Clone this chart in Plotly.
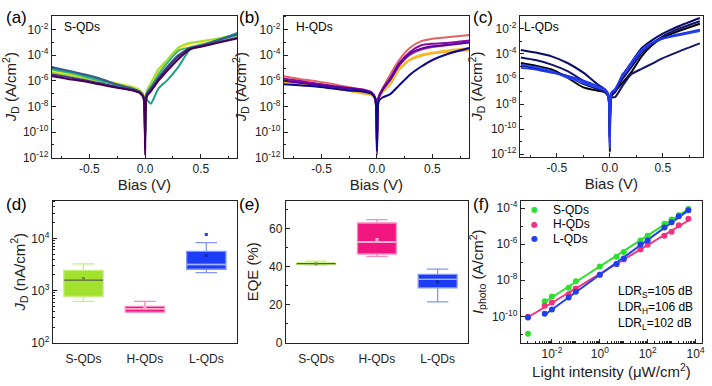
import numpy as np
import plotly.graph_objects as go

W, H = 712, 386

# ---------------- data ----------------
BIAS = [-0.84, -0.7, -0.55, -0.4, -0.25, -0.12, -0.05, -0.015, 0.0, 0.015, 0.05, 0.12, 0.2, 0.3, 0.4, 0.5, 0.65, 0.85]

# (a) S-QDs, log10(J) per device
S_COLORS = ["#fde725", "#a5db36", "#35b779", "#1f9e89", "#365c8d", "#46327e", "#440154"]
S_LOGJ = [
    [-5.25, -5.45, -5.7, -5.95, -6.2, -6.45, -6.7, -7.05, -10.0, -6.85, -6.35, -5.3, -4.5, -3.55, -3.15, -3.0, -2.75, -2.4],
    [-5.35, -5.55, -5.8, -6.05, -6.25, -6.5, -6.75, -7.1, -10.0, -6.8, -6.2, -5.1, -4.35, -3.4, -3.05, -2.92, -2.7, -2.35],
    [-5.1, -5.35, -5.65, -6.0, -6.35, -6.6, -6.85, -7.2, -10.0, -6.9, -6.5, -5.5, -4.6, -3.65, -3.4, -3.2, -2.85, -2.4],
    [-5.0, -5.25, -5.55, -5.9, -6.35, -6.65, -6.9, -7.3, -10.2, -7.5, -7.8, -6.6, -5.95, -4.9, -3.6, -3.3, -2.85, -2.2],
    [-4.93, -5.2, -5.5, -5.85, -6.3, -6.6, -6.85, -7.2, -10.8, -7.0, -6.6, -5.75, -4.9, -4.0, -3.5, -3.25, -2.85, -2.3],
    [-5.5, -5.7, -5.95, -6.2, -6.5, -6.7, -6.9, -7.25, -10.5, -7.1, -6.7, -5.85, -5.0, -4.1, -3.45, -3.3, -3.0, -2.6],
    [-5.64, -5.85, -6.05, -6.3, -6.55, -6.75, -6.95, -7.3, -11.8, -7.2, -6.85, -6.0, -5.2, -4.3, -3.55, -3.35, -3.05, -2.65],
]

# (b) H-QDs
H_COLORS = ["#fca636", "#f4c025", "#e16462", "#b83289", "#8b0aa5", "#5302a3", "#0d0887"]
H_LOGJ = [
    [-6.1, -6.2, -6.35, -6.55, -6.8, -7.0, -7.1, -7.5, -10.5, -7.4, -6.9, -6.27, -5.13, -4.37, -4.04, -3.86, -3.73, -3.6],
    [-6.05, -6.15, -6.3, -6.5, -6.75, -6.95, -7.05, -7.45, -10.5, -7.35, -6.85, -6.2, -5.05, -4.3, -3.95, -3.8, -3.6, -3.45],
    [-5.64, -5.85, -6.02, -6.25, -6.5, -6.7, -6.9, -7.3, -10.5, -7.2, -6.6, -5.5, -4.37, -3.4, -2.9, -2.71, -2.58, -2.4],
    [-5.95, -6.1, -6.25, -6.45, -6.6, -6.75, -6.95, -7.4, -11.8, -7.35, -6.75, -5.9, -4.8, -3.95, -3.55, -3.35, -3.2, -3.0],
    [-5.84, -6.0, -6.2, -6.4, -6.55, -6.7, -6.9, -7.35, -11.0, -7.3, -6.65, -5.77, -4.62, -3.73, -3.22, -3.1, -3.02, -2.84],
    [-6.0, -6.15, -6.3, -6.45, -6.6, -6.75, -6.95, -7.4, -11.0, -7.35, -6.7, -5.9, -4.75, -3.85, -3.48, -3.3, -3.17, -2.97],
    [-6.27, -6.35, -6.45, -6.6, -6.75, -6.85, -7.0, -7.4, -11.5, -7.6, -7.3, -7.04, -6.35, -5.5, -4.88, -4.37, -3.86, -3.4],
]

# (c) L-QDs
L_COLORS = ["#000000", "#12126a", "#0b0b66", "#14146e", "#2848f0", "#1f35e8"]
L_LOGJ = [
    [-4.73, -4.95, -5.25, -5.9, -6.68, -6.93, -7.05, -7.4, -11.0, -7.4, -7.0, -6.3, -5.5, -4.2, -3.3, -2.7, -2.18, -1.6],
    [-4.29, -4.5, -4.86, -5.38, -6.15, -6.8, -7.0, -7.35, -11.0, -7.3, -6.95, -6.0, -5.1, -3.95, -3.17, -2.6, -2.0, -1.4],
    [-3.69, -3.9, -4.2, -4.73, -5.5, -6.4, -6.8, -7.2, -11.8, -7.2, -7.06, -5.77, -4.73, -3.56, -2.91, -2.39, -1.8, -1.14],
    [-4.94, -5.15, -5.45, -5.77, -6.4, -6.8, -7.0, -7.35, -10.5, -7.5, -7.45, -6.55, -5.64, -5.2, -4.78, -4.34, -3.82, -3.17],
    [-4.86, -5.05, -5.38, -5.9, -6.3, -6.68, -6.9, -7.3, -11.5, -7.1, -6.8, -5.77, -4.73, -3.7, -3.1, -2.78, -2.52, -2.18],
    [-5.12, -5.25, -5.5, -5.77, -6.15, -6.55, -6.8, -7.2, -10.5, -7.1, -6.9, -5.64, -4.86, -3.82, -3.17, -2.78, -2.44, -2.08],
]

# (d) dark current box stats (nA/cm2)
GROUPS = ["S-QDs", "H-QDs", "L-QDs"]
JD_Q1 = [770, 386, 2560]
JD_MED = [1590, 447, 3160]
JD_Q3 = [2440, 500, 5640]
JD_LO = [620, 386, 2210]
JD_HI = [3240, 620, 8300]
JD_MEAN = [1700, 470, 4680]
JD_OUTLIER = [None, None, 11900]

# (e) EQE box stats (%)
EQE_Q1 = [41.2, 46.7, 28.9]
EQE_MED = [41.6, 53.0, 33.3]
EQE_Q3 = [42.0, 63.0, 36.0]
EQE_LO = [40.8, 45.5, 21.5]
EQE_HI = [43.0, 64.8, 38.7]
EQE_MEAN = [41.6, 54.3, 32.1]

BOX_FILL = ["#a2e22e", "#f0157f", "#1d3cf5"]
BOX_LINE = ["#c6f07a", "#f78cbf", "#8496fa"]
MED_COLOR = ["#4f5d3a", "#ffc2dd", "#9fb0ff"]
MEAN_COLOR = ["#6f8f3a", "#ffb0d0", "#0f2aa8"]

# (f) photocurrent vs light intensity
INTENSITY = [0.001, 0.005, 0.01, 0.05, 0.1, 1, 5, 10, 50, 100, 500, 1000, 2000, 5000]
IPH_S = [1.1e-11, 6.9e-10, 1.26e-9, 3.8e-9, 8.9e-9, 5.7e-8, 2.0e-7, 3.7e-7, 1.6e-6, 2.9e-6, 1.35e-5, 2.3e-5, 4.0e-5, 8.9e-5]
IPH_H = [9.5e-11, 3.9e-10, 5.9e-10, 1.66e-9, 3.5e-9, 2.0e-8, 8.0e-8, 1.4e-7, 5.1e-7, 9.2e-7, 2.9e-6, 4.8e-6, 1.1e-5, 2.5e-5]
IPH_L = [8.7e-11, 1.4e-10, 2.4e-10, 1.1e-9, 2.3e-9, 2.0e-8, 7.9e-8, 1.6e-7, 9.5e-7, 1.6e-6, 8.3e-6, 1.6e-5, 3.5e-5, 7.5e-5]
FIT_START = [1, 0, 1]  # first point used in each linear fit (S, H, L)
F_NAMES = ["S-QDs", "H-QDs", "L-QDs"]
F_COLORS = ["#2ee02e", "#f2317f", "#2040f0"]
LDR_TEXT = ["LDR<sub>S</sub>=105 dB", "LDR<sub>H</sub>=106 dB", "LDR<sub>L</sub>=102 dB"]

# ---------------- figure ----------------
FONT = "Liberation Sans, Arial, sans-serif"
INK = "#222222"
fig = go.Figure()


def px_x(a, b):
    return [a / W, b / W]


def px_y(top, bot):
    return [1 - bot / H, 1 - top / H]


# J-V panels
for k, (logs, cols) in enumerate([(S_LOGJ, S_COLORS), (H_LOGJ, H_COLORS), (L_LOGJ, L_COLORS)]):
    ax = "" if k == 0 else str(k + 1)
    for lj, c in zip(logs, cols):
        fig.add_trace(go.Scatter(
            x=BIAS, y=[10 ** v for v in lj], mode="lines",
            line=dict(color=c, width=2, shape="spline", smoothing=0.6),
            xaxis="x" + ax, yaxis="y" + ax, showlegend=False, hoverinfo="skip"))

# box panels
BW = 0.64
for k, (q1, med, q3, lo, hi, mean, ax) in enumerate([
        (JD_Q1, JD_MED, JD_Q3, JD_LO, JD_HI, JD_MEAN, "4"),
        (EQE_Q1, EQE_MED, EQE_Q3, EQE_LO, EQE_HI, EQE_MEAN, "5")]):
    for i in range(3):
        fig.add_trace(go.Box(
            x=[i], q1=[q1[i]], median=[med[i]], q3=[q3[i]],
            lowerfence=[lo[i]], upperfence=[hi[i]],
            width=BW, whiskerwidth=0.55, boxpoints=False,
            fillcolor=BOX_FILL[i], line=dict(color=BOX_LINE[i], width=1.3),
            xaxis="x" + ax, yaxis="y" + ax, showlegend=False, hoverinfo="skip"))
        fig.add_trace(go.Scatter(
            x=[i - BW / 2, i + BW / 2], y=[med[i], med[i]], mode="lines",
            line=dict(color=MED_COLOR[i], width=1.3),
            xaxis="x" + ax, yaxis="y" + ax, showlegend=False, hoverinfo="skip"))
        fig.add_trace(go.Scatter(
            x=[i], y=[mean[i]], mode="markers",
            marker=dict(color=MEAN_COLOR[i], size=3, symbol="square"),
            xaxis="x" + ax, yaxis="y" + ax, showlegend=False, hoverinfo="skip"))
    if ax == "4":
        ox = [i for i in range(3) if JD_OUTLIER[i] is not None]
        fig.add_trace(go.Scatter(
            x=ox, y=[JD_OUTLIER[i] for i in ox], mode="markers",
            marker=dict(color=BOX_FILL[2], size=3, symbol="square"),
            xaxis="x4", yaxis="y4", showlegend=False, hoverinfo="skip"))

# (f)
lx = np.log10(INTENSITY)
for name, ys, c, s in zip(F_NAMES, [IPH_S, IPH_H, IPH_L], F_COLORS, FIT_START):
    ly = np.log10(ys)
    p = np.polyfit(lx[s:], ly[s:], 1)
    xf = np.array([lx[s], lx[-1]])
    fig.add_trace(go.Scatter(
        x=10 ** xf, y=10 ** np.polyval(p, xf), mode="lines",
        line=dict(color=c, width=2), xaxis="x6", yaxis="y6",
        showlegend=False, hoverinfo="skip"))
for name, ys, c in zip(F_NAMES, [IPH_S, IPH_H, IPH_L], F_COLORS):
    fig.add_trace(go.Scatter(
        x=INTENSITY, y=ys, mode="markers", name=name, showlegend=False,
        marker=dict(color=c, size=6), xaxis="x6", yaxis="y6", hoverinfo="skip"))

# ---------------- axes ----------------
base = dict(showline=True, linecolor=INK, linewidth=1, mirror=True, ticks="inside",
            ticklen=4, tickcolor=INK, tickwidth=1, showgrid=False, zeroline=False,
            tickfont=dict(family=FONT, size=12, color=INK),
            title_font=dict(family=FONT, size=15, color=INK))

jv_y_major = [10.0 ** e for e in range(-12, -1, 2)]
jv_y_text = ["10<sup>%d</sup>" % e for e in range(-12, -1, 2)]
jv_y_minor = [10.0 ** e for e in range(-11, 0, 2)]

top_x = [(52, 238), (285, 471), (522, 706)]
x_ranges = [(-0.837, 0.824), (-0.84, 0.83), (-0.85, 0.88)]
y_ranges = [(-12, -0.93), (-12, -0.91), (-12.2, -0.96)]
ytitle_jv = "<i>J</i><sub>D</sub> (A/cm<sup>2</sup>)"
layout = {}
for k in range(3):
    ax = "" if k == 0 else str(k + 1)
    layout["xaxis" + ax] = dict(base, domain=px_x(*top_x[k]), anchor="y" + ax,
                               range=list(x_ranges[k]), tickvals=[-0.5, 0, 0.5],
                               ticktext=["-0.5", "0.0", "0.5"],
                               minor=dict(tickvals=[-0.75, -0.25, 0.25, 0.75], ticks="inside", ticklen=2, tickcolor=INK),
                               title=dict(text="Bias (V)", standoff=2))
    layout["yaxis" + ax] = dict(base, domain=px_y(15, 160 if k < 2 else 159), anchor="x" + ax,
                               type="log", range=list(y_ranges[k]), tickvals=jv_y_major,
                               ticktext=jv_y_text,
                               minor=dict(tickvals=jv_y_minor, ticks="inside", ticklen=2, tickcolor=INK),
                               title=dict(text=ytitle_jv, standoff=4))

bot_x = [(53, 238), (287, 470), (523, 705)]
cat = dict(range=[-0.5, 2.5], tickvals=[0, 1, 2], ticktext=GROUPS, ticks="", ticklabelstandoff=5)
layout["xaxis4"] = dict(base, domain=px_x(*bot_x[0]), anchor="y4", **cat)
layout["yaxis4"] = dict(base, domain=px_y(204, 349), anchor="x4", type="log", range=[2, 4.72],
                        tickvals=[100, 1000, 10000], ticktext=["10<sup>2</sup>", "10<sup>3</sup>", "10<sup>4</sup>"],
                        minor=dict(tickvals=[v * m for v in [100, 1000, 10000] for m in range(2, 10)],
                                   ticks="inside", ticklen=2, tickcolor=INK),
                        title=dict(text="<i>J</i><sub>D</sub> (nA/cm<sup>2</sup>)", standoff=2))
layout["xaxis5"] = dict(base, domain=px_x(*bot_x[1]), anchor="y5", **cat)
layout["yaxis5"] = dict(base, domain=px_y(204, 349), anchor="x5", range=[0, 74.7],
                        tickvals=[0, 20, 40, 60],
                        minor=dict(tickvals=[10, 30, 50, 70], ticks="inside", ticklen=2, tickcolor=INK),
                        title=dict(text="EQE (%)", standoff=6))
layout["xaxis6"] = dict(base, domain=px_x(*bot_x[2]), anchor="y6", type="log", range=[-3.3, 4.27],
                        tickvals=[1e-2, 1, 1e2, 1e4],
                        ticktext=["10<sup>-2</sup>", "10<sup>0</sup>", "10<sup>2</sup>", "10<sup>4</sup>"],
                        minor=dict(tickvals=[v * m for v in [1e-3, 1e-2, 1e-1, 1, 10, 100, 1e3, 1e4] for m in range(1, 10)],
                                   ticks="inside", ticklen=2, tickcolor=INK),
                        title=dict(text="Light intensity (\u03bcW/cm<sup>2</sup>)", standoff=2))
layout["yaxis6"] = dict(base, domain=px_y(204, 349), anchor="x6", type="log", range=[-11.46, -3.6],
                        tickvals=[1e-10, 1e-8, 1e-6, 1e-4],
                        ticktext=["10<sup>-10</sup>", "10<sup>-8</sup>", "10<sup>-6</sup>", "10<sup>-4</sup>"],
                        minor=dict(tickvals=[1e-11, 1e-9, 1e-7, 1e-5], ticks="inside", ticklen=2, tickcolor=INK),
                        title=dict(text="<i>I</i><sub>photo</sub> (A/cm<sup>2</sup>)", standoff=4))

ann = []
for lab, x, y in [("(a)", 4, 17), ("(b)", 238, 17), ("(c)", 473, 17),
                  ("(d)", 4, 208), ("(e)", 238, 208), ("(f)", 473, 208)]:
    ann.append(dict(text=lab, x=x / W, y=1 - y / H, xref="paper", yref="paper",
                    xanchor="left", yanchor="middle", showarrow=False,
                    font=dict(family=FONT, size=17, color="#000")))
for lab, x in [("S-QDs", 62), ("H-QDs", 295), ("L-QDs", 524)]:
    ann.append(dict(text=lab, x=x / W, y=1 - 27 / H, xref="paper", yref="paper",
                    xanchor="left", yanchor="middle", showarrow=False,
                    font=dict(family=FONT, size=12, color="#000")))
for t, y in zip(LDR_TEXT, [297, 314, 330]):
    ann.append(dict(text=t, x=619 / W, y=1 - y / H, xref="paper", yref="paper",
                    xanchor="left", yanchor="middle", showarrow=False,
                    font=dict(family=FONT, size=12, color="#000")))
# legend of panel (f)
for name, c, y in zip(F_NAMES, F_COLORS, [213, 228, 243]):
    ann.append(dict(text="<span style='color:%s'>\u25cf</span>" % c, x=537 / W, y=1 - y / H,
                    xref="paper", yref="paper", xanchor="center", yanchor="middle",
                    showarrow=False, font=dict(family="DejaVu Sans", size=8)))
    ann.append(dict(text=name, x=553 / W, y=1 - y / H, xref="paper", yref="paper",
                    xanchor="left", yanchor="middle", showarrow=False,
                    font=dict(family=FONT, size=12, color="#000")))

fig.update_layout(
    width=W, height=H, margin=dict(l=0, r=0, t=0, b=0),
    paper_bgcolor="white", plot_bgcolor="white",
    font=dict(family=FONT, size=12, color=INK),
    showlegend=False,
    annotations=ann,
    **layout)

fig.write_html("out.html", config={"displayModeBar": False},
               post_script="document.body.style.margin='0';document.body.style.overflow='hidden';")
